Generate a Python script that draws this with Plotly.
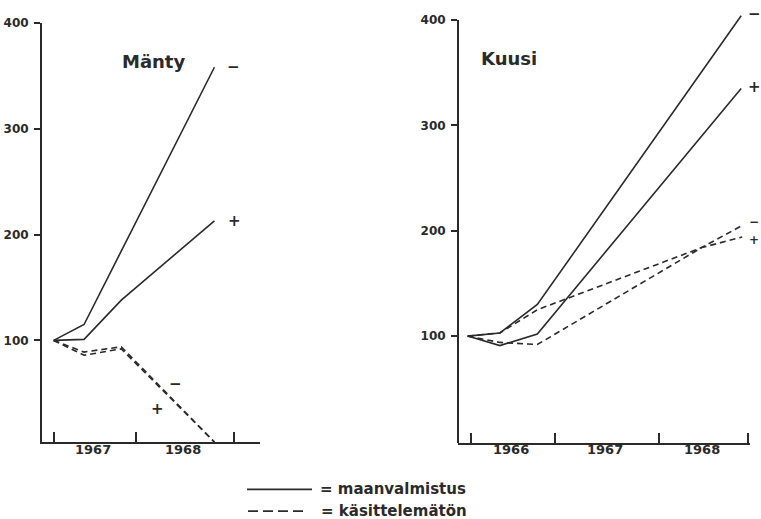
import plotly.graph_objects as go

# ---------------- data ----------------
# time in decimal years
manty_t_minus = [1967.16, 1967.47, 1968.80]
manty_t = [1967.16, 1967.47, 1967.85, 1968.80]
manty_solid_minus = [100, 115, 358]
manty_solid_plus = [100, 101, 138, 213]
manty_dash_minus = [100, 89, 94, 4]
manty_dash_plus = [100, 86, 92, 4]

kuusi_t_solid = [1966.16, 1966.47, 1966.83, 1968.79]
kuusi_solid_minus = [100, 103, 130, 404]
kuusi_solid_plus = [100, 91, 102, 335]
kuusi_t_dash = [1966.16, 1966.47, 1966.83, 1967.96, 1968.41, 1968.80]
kuusi_dash_minus = [100, 103, 125, 167, 184, 205]
kuusi_dash_plus = [100, 94, 92, 158, 184, 194]

# sign labels (text, x, y, pixel shift to the right, font size)
manty_signs = [("−", 1968.99, 358, 0, 15), ("+", 1969.00, 213, 0, 15),
               ("−", 1968.40, 59, 0, 15), ("+", 1968.22, 35, 0, 15)]
kuusi_signs = [("−", 1968.80, 406, 12, 15), ("+", 1968.80, 336, 12, 15),
               ("−", 1968.80, 208, 12, 12), ("+", 1968.80, 191, 12, 12)]

manty_ticks = [1967.16, 1968.0, 1969.0]
manty_years = ["1967", "1968"]
kuusi_ticks = [1966.19, 1967.0, 1968.0, 1968.86]
kuusi_years = ["1966", "1967", "1968"]
y_ticks = [100, 200, 300, 400]

legend_labels = ["= maanvalmistus", "= käsittelemätön"]

# ---------------- style ----------------
INK = "#2a2a2a"
FONT = "DejaVu Sans"
W, H = 761, 519
DASH = "6px,4px"

fig = go.Figure()


def add_line(x, y, xa, ya, dash, name):
    fig.add_trace(go.Scatter(
        x=x, y=y, xaxis=xa, yaxis=ya, mode="lines", name=name,
        line=dict(color=INK, width=1.6, dash=dash), showlegend=False,
        hoverinfo="x+y+name"))


add_line(manty_t_minus, manty_solid_minus, "x", "y", "solid", "Mänty maanvalmistus −")
add_line(manty_t, manty_solid_plus, "x", "y", "solid", "Mänty maanvalmistus +")
add_line(manty_t, manty_dash_minus, "x", "y", DASH, "Mänty käsittelemätön −")
add_line(manty_t, manty_dash_plus, "x", "y", DASH, "Mänty käsittelemätön +")

add_line(kuusi_t_solid, kuusi_solid_minus, "x2", "y2", "solid", "Kuusi maanvalmistus −")
add_line(kuusi_t_solid, kuusi_solid_plus, "x2", "y2", "solid", "Kuusi maanvalmistus +")
add_line(kuusi_t_dash, kuusi_dash_minus, "x2", "y2", DASH, "Kuusi käsittelemätön −")
add_line(kuusi_t_dash, kuusi_dash_plus, "x2", "y2", DASH, "Kuusi käsittelemätön +")

# axis domains matched to the picture
lx0, lx1 = 42 / W, 260 / W
rx0, rx1 = 458 / W, 750 / W
ly0, ly1 = 1 - 441 / H, 1 - 16 / H
ry0, ry1 = 1 - 442 / H, 1 - 6.8 / H

xcommon = dict(showgrid=False, zeroline=False, showline=True, linecolor=INK, linewidth=2,
               ticks="inside", ticklen=10, tickwidth=2, tickcolor=INK,
               showticklabels=False)
ycommon = dict(showgrid=False, zeroline=False, ticks="outside", ticklen=6, tickwidth=2,
               tickcolor=INK, tickvals=y_ticks, ticklabelstandoff=3,
               tickfont=dict(family=FONT, size=12, color=INK, weight="bold"))

fig.update_layout(
    width=W, height=H, margin=dict(l=0, r=0, t=0, b=0),
    paper_bgcolor="white", plot_bgcolor="rgba(0,0,0,0)",
    showlegend=False,
    xaxis=dict(domain=[lx0, lx1], range=[1967.041, 1969.265], tickvals=manty_ticks,
               anchor="y", **xcommon),
    yaxis=dict(domain=[ly0, ly1], range=[4, 400], anchor="x", showline=True,
               linecolor=INK, linewidth=2, **ycommon),
    xaxis2=dict(domain=[rx0, rx1], range=[1966.067, 1968.875], tickvals=kuusi_ticks,
                anchor="y2", **xcommon),
    yaxis2=dict(domain=[ry0, ry1], range=[-1.5, 406], anchor="x2", showline=False,
                **ycommon),
)

# right-hand y-axis line (stops at 400 like the original)
fig.add_shape(type="line", xref="x2 domain", yref="y2", x0=0, x1=0, y0=-1.5, y1=400,
              line=dict(color=INK, width=2))

annots = []
# panel titles
annots.append(dict(text="<b>Mänty</b>", x=120 / W, y=1 - 43 / H, xref="paper", yref="paper",
                   showarrow=False, font=dict(family=FONT, size=18, color=INK)))
annots.append(dict(text="<b>Kuusi</b>", x=539 / W, y=1 - 40 / H, xref="paper", yref="paper",
                   showarrow=False, font=dict(family=FONT, size=18, color=INK)))

# year labels centred between ticks
year_y = 1 - 458 / H
for i, lab in enumerate(manty_years):
    annots.append(dict(text=f"<b>{lab}</b>", x=(manty_ticks[i] + manty_ticks[i + 1]) / 2,
                       y=year_y, xref="x", yref="paper", showarrow=False, xshift=-2,
                       font=dict(family=FONT, size=13, color=INK)))
for i, lab in enumerate(kuusi_years):
    annots.append(dict(text=f"<b>{lab}</b>", x=(kuusi_ticks[i] + kuusi_ticks[i + 1]) / 2,
                       y=year_y, xref="x2", yref="paper", showarrow=False, xshift=-2,
                       font=dict(family=FONT, size=13, color=INK)))

# sign labels
for txt, x, y, sh, fs in manty_signs:
    annots.append(dict(text=f"<b>{txt}</b>", x=x, y=y, xref="x", yref="y", showarrow=False,
                       xshift=sh, font=dict(family=FONT, size=fs, color=INK)))
for txt, x, y, sh, fs in kuusi_signs:
    annots.append(dict(text=f"<b>{txt}</b>", x=x, y=y, xref="x2", yref="y2", showarrow=False,
                       xshift=sh, font=dict(family=FONT, size=fs, color=INK)))

# legend (drawn)
leg_rows = [1 - 489 / H, 1 - 511 / H]
fig.add_shape(type="line", xref="paper", yref="paper", x0=247 / W, x1=312 / W,
              y0=leg_rows[0], y1=leg_rows[0], line=dict(color=INK, width=1.6))
fig.add_shape(type="line", xref="paper", yref="paper", x0=248 / W, x1=303 / W,
              y0=leg_rows[1], y1=leg_rows[1], line=dict(color=INK, width=1.6, dash="10px,5px"))
for lab, yy, xx in zip(legend_labels, leg_rows, [318, 319]):
    annots.append(dict(text=f"<b>{lab}</b>", x=xx / W, y=yy, xref="paper", yref="paper",
                       xanchor="left", yanchor="middle", showarrow=False,
                       font=dict(family=FONT, size=15, color=INK)))

fig.update_layout(annotations=annots)

fig.write_html("out.html")
